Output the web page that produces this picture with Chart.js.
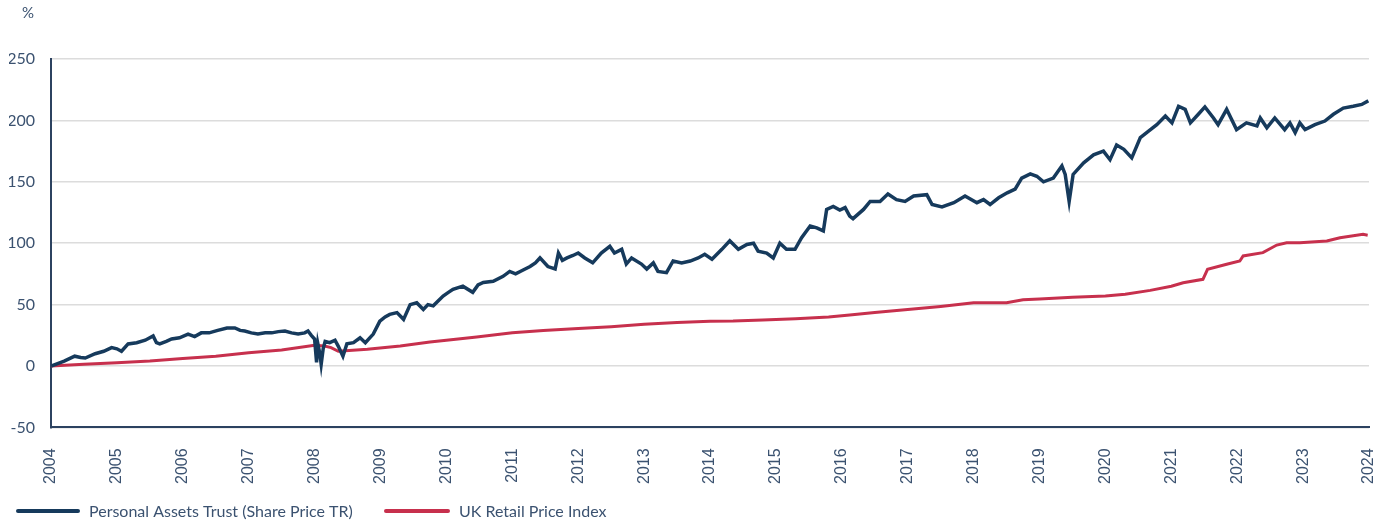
<!DOCTYPE html>
<html>
<head>
<meta charset="utf-8">
<script src="https://cdn.jsdelivr.net/npm/chart.js@4/dist/chart.umd.min.js"></script>
<style>
  html, body { margin: 0; padding: 0; background: #fff; }
  #wrap { width: 1392px; height: 524px; position: relative; }
</style>
</head>
<body>
<div id="wrap"><canvas id="perfChart"></canvas></div>
<script>
// values (x in decimal years, y in %)
const patYears = [
  2004.00, 2004.10, 2004.20, 2004.36, 2004.45, 2004.52, 2004.67, 2004.80, 2004.92, 2005.00,
  2005.07, 2005.17, 2005.30, 2005.43, 2005.55, 2005.60, 2005.65, 2005.75, 2005.83, 2005.95,
  2006.08, 2006.18, 2006.28, 2006.40, 2006.53, 2006.67, 2006.79, 2006.87, 2006.94, 2007.04,
  2007.14, 2007.25, 2007.35, 2007.45, 2007.55, 2007.65, 2007.75, 2007.85, 2007.90, 2007.95,
  2008.00, 2008.03, 2008.05, 2008.08, 2008.10, 2008.13, 2008.16, 2008.23, 2008.31, 2008.36,
  2008.43, 2008.46, 2008.49, 2008.59, 2008.69, 2008.77, 2008.89, 2008.99, 2009.07, 2009.14,
  2009.25, 2009.35, 2009.45, 2009.55, 2009.65, 2009.72, 2009.80, 2009.95, 2010.03, 2010.10,
  2010.25, 2010.40, 2010.48, 2010.56, 2010.71, 2010.86, 2010.96, 2011.05, 2011.12, 2011.27,
  2011.35, 2011.42, 2011.54, 2011.65, 2011.70, 2011.76, 2011.83, 2011.92, 2012.00, 2012.10,
  2012.22, 2012.35, 2012.48, 2012.55, 2012.66, 2012.73, 2012.81, 2012.96, 2013.04, 2013.14,
  2013.21, 2013.34, 2013.44, 2013.57, 2013.70, 2013.82, 2013.92, 2014.03, 2014.18, 2014.30,
  2014.43, 2014.56, 2014.66, 2014.73, 2014.86, 2014.96, 2015.06, 2015.16, 2015.29, 2015.39,
  2015.52, 2015.62, 2015.72, 2015.77, 2015.87, 2015.97, 2016.05, 2016.12, 2016.17, 2016.33,
  2016.43, 2016.58, 2016.70, 2016.83, 2016.96, 2017.09, 2017.29, 2017.37, 2017.52, 2017.70,
  2017.87, 2018.05, 2018.15, 2018.25, 2018.38, 2018.51, 2018.63, 2018.73, 2018.86, 2018.96,
  2019.06, 2019.21, 2019.34, 2019.39, 2019.45, 2019.51, 2019.67, 2019.82, 2019.97, 2020.07,
  2020.17, 2020.28, 2020.40, 2020.53, 2020.65, 2020.78, 2020.91, 2021.01, 2021.11, 2021.21,
  2021.29, 2021.41, 2021.51, 2021.64, 2021.71, 2021.84, 2021.99, 2022.14, 2022.30, 2022.35,
  2022.45, 2022.57, 2022.72, 2022.80, 2022.88, 2022.95, 2023.03, 2023.18, 2023.33, 2023.46,
  2023.61, 2023.76, 2023.89, 2023.99
];
const patValues = [
  0, 2, 4, 8, 7, 6.5, 10, 12, 15, 14,
  12, 18, 19, 21, 24.5, 19, 18, 20, 22, 23,
  26, 24, 27, 27, 29, 31, 31, 29, 28.5, 27,
  26, 27, 27, 28, 28.5, 27, 26, 27, 28.5, 25,
  22, 3, 18, 10, 1.5, 14, 20, 19, 21, 16,
  8, 13, 18, 19, 23, 19, 26, 36.5, 40, 42,
  43.5, 38, 50, 51.5, 46, 50, 49, 57, 60, 62.5,
  65, 60, 66, 68, 69, 73, 77, 75, 77, 81,
  84, 88, 81, 79, 92, 86, 88, 90, 92, 88,
  84, 92, 97.5, 92, 95, 83, 88, 83, 79, 84,
  77, 76, 85.5, 84, 85.5, 88, 91, 87, 95, 102,
  95, 99, 100, 93.5, 92, 88, 100, 95, 95, 104.5,
  114, 112.5, 110, 127.5, 130, 127, 129, 122, 120, 127.5,
  134, 134, 140, 135.5, 134, 138.5, 139.5, 131.5, 129.5, 133,
  138.5, 133, 135.5, 131.5, 137, 141, 144, 153, 156.5, 154.5,
  150, 153, 163, 156, 134, 156, 165.5, 172, 175, 168,
  180, 176.5, 169.5, 186, 191, 196.5, 203.5, 198, 211.5, 209,
  198, 205, 211, 202, 196.5, 209, 192.5, 198, 195.5, 202,
  194, 202, 192.5, 198, 190, 198, 192.5, 196.5, 199.5, 205,
  210, 211.5, 213, 216
];

const rpiYears = [
  2004.0, 2004.5, 2005.0, 2005.5, 2006.0, 2006.5, 2007.0, 2007.5, 2008.0, 2008.15,
  2008.25, 2008.36, 2008.8, 2009.3, 2009.75, 2010.0, 2010.46, 2011.0, 2011.47, 2012.0,
  2012.5, 2013.0, 2013.5, 2014.0, 2014.35, 2014.8, 2015.3, 2015.8, 2016.12, 2016.5,
  2017.0, 2017.5, 2018.0, 2018.5, 2018.75, 2019.0, 2019.5, 2020.0, 2020.3, 2020.68,
  2021.0, 2021.18, 2021.48, 2021.55, 2021.84, 2022.04, 2022.09, 2022.39, 2022.6, 2022.75,
  2022.95, 2023.36, 2023.56, 2023.91, 2023.98
];
const rpiValues = [
  0, 1.5, 2.7, 4, 6.2, 8, 10.8, 13, 16.8, 16.3,
  15, 12, 13.6, 16.3, 19.5, 21, 23.6, 27, 29, 30.5,
  32, 34, 35.5, 36.5, 36.6, 37.5, 38.5, 40, 41.5, 43.5,
  46, 48.5, 51.5, 51.5, 54, 54.5, 56, 57, 58.5, 61.6,
  65, 67.8, 70.6, 78.7, 82.8, 85.5, 89.6, 92.3, 98.5, 100.4,
  100.4, 101.8, 104.5, 107.2, 106.5
];

const seriesLabels = ['Personal Assets Trust (Share Price TR)', 'UK Retail Price Index'];
const yTicks = [-50, 0, 50, 100, 150, 200, 250];
const xTickYears = [2004, 2005, 2006, 2007, 2008, 2009, 2010, 2011, 2012, 2013, 2014,
  2015, 2016, 2017, 2018, 2019, 2020, 2021, 2022, 2023, 2024];

const NAVY = '#163a5c';
const RED = '#c7304d';
const TEXT = '#3b5270';

// "%" unit label and the legend under the axis
const extrasPlugin = {
  id: 'extras',
  afterDraw(chart) {
    const ctx = chart.ctx;
    ctx.save();
    ctx.fillStyle = TEXT;
    ctx.font = '15px Lato';
    ctx.textBaseline = 'middle';
    ctx.textAlign = 'left';
    ctx.fillText('%', 22, 13);

    const boxes = [{ x: 18, w: 60 }, { x: 386, w: 62 }];
    chart.data.datasets.forEach((ds, i) => {
      const b = boxes[i];
      ctx.strokeStyle = ds.borderColor;
      ctx.lineWidth = 4;
      ctx.lineCap = 'round';
      ctx.beginPath();
      ctx.moveTo(b.x, 511);
      ctx.lineTo(b.x + b.w, 511);
      ctx.stroke();
      ctx.fillStyle = TEXT;
      ctx.font = '16px Lato';
      ctx.fillText(ds.label, b.x + b.w + 11, 512);
    });
    ctx.restore();
  }
};

const ctx = document.getElementById('perfChart').getContext('2d');
window.perfChart = new Chart(ctx, {
  type: 'line',
  data: {
    datasets: [
      {
        label: seriesLabels[0],
        data: patYears.map((x, i) => ({ x: x, y: patValues[i] })),
        borderColor: NAVY,
        borderWidth: 3.5,
        pointRadius: 0,
        tension: 0
      },
      {
        label: seriesLabels[1],
        data: rpiYears.map((x, i) => ({ x: x, y: rpiValues[i] })),
        borderColor: RED,
        borderWidth: 3,
        pointRadius: 0,
        tension: 0
      }
    ]
  },
  options: {
    responsive: true,
    maintainAspectRatio: false,
    animation: false,
    layout: { padding: { left: 9, right: 23, top: 59, bottom: 19 } },
    plugins: {
      legend: { display: false },
      tooltip: { enabled: false }
    },
    scales: {
      x: {
        type: 'linear',
        min: 2004,
        max: 2024,
        afterBuildTicks: axis => { axis.ticks = xTickYears.map(v => ({ value: v })); },
        afterFit: axis => { axis.paddingLeft = 0; axis.paddingRight = 0; },
        ticks: {
          callback: v => String(v),
          minRotation: 90,
          maxRotation: 90,
          padding: 21,
          color: TEXT,
          font: { family: 'Liberation Sans', size: 16 }
        },
        grid: { display: false, drawTicks: false },
        border: { display: true, color: '#2c4260', width: 2 }
      },
      y: {
        min: -50,
        max: 250,
        afterBuildTicks: axis => { axis.ticks = yTicks.map(v => ({ value: v })); },
        afterFit: axis => { axis.width = 42; },
        ticks: {
          padding: 16,
          color: TEXT,
          font: { family: 'Lato', size: 16 }
        },
        grid: { color: '#dcdcdc', lineWidth: 1.5, drawTicks: false },
        border: { display: true, color: '#2c4260', width: 2 }
      }
    }
  },
  plugins: [extrasPlugin]
});
</script>
</body>
</html>
